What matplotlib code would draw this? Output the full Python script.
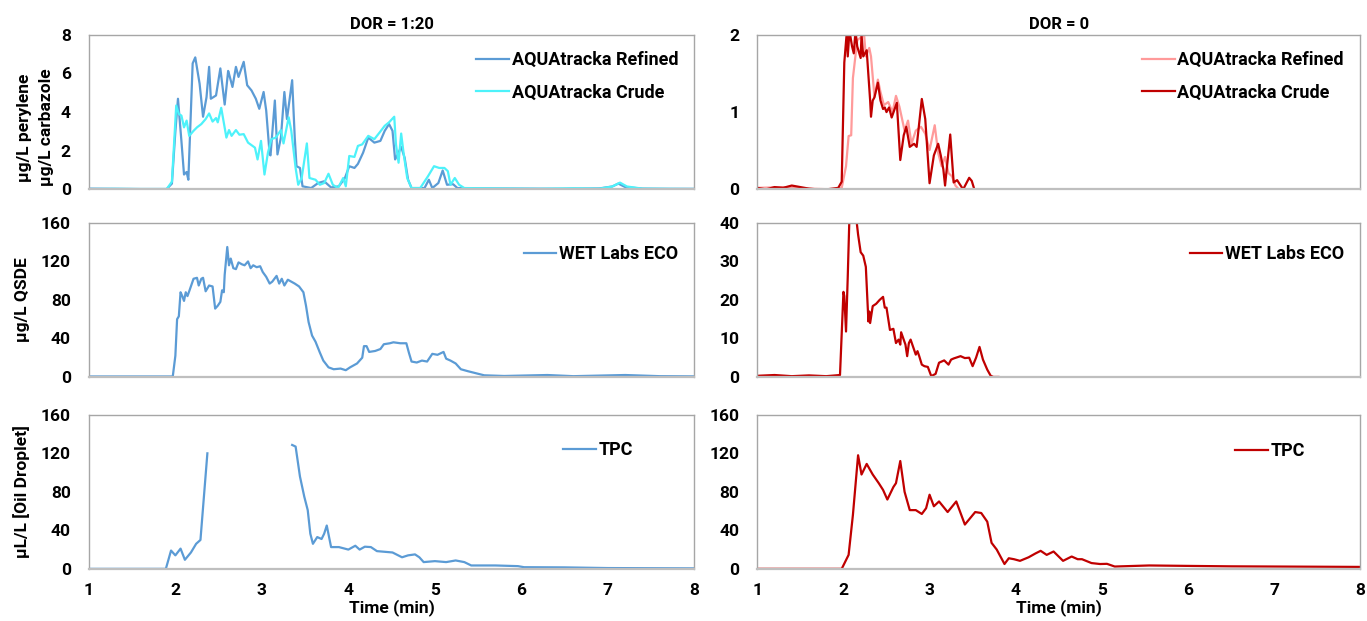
import numpy as np
import matplotlib
matplotlib.use("Agg")
from matplotlib import pyplot as plt

plt.rcParams['font.family'] = ['Roboto', 'DejaVu Sans']
plt.rcParams['font.weight'] = 'bold'

# (time in min, value) pairs
# ---- DOR = 1:20 (left column) ----
aqua_ref = [(1.0, 0.04), (1.3, 0.03), (1.6, 0.02), (1.9, 0.02), (1.96, 0.3), (2.0, 3.0), (2.03, 4.69),
            (2.07, 2.5), (2.10, 0.77), (2.13, 0.9), (2.15, 0.5), (2.20, 6.52), (2.23, 6.83), (2.28, 5.47),
            (2.32, 3.76), (2.36, 4.77), (2.39, 6.34), (2.41, 4.69), (2.47, 4.86), (2.52, 6.26), (2.57, 4.39),
            (2.61, 6.13), (2.62, 5.98), (2.66, 5.30), (2.70, 6.34), (2.73, 5.82), (2.79, 6.60), (2.83, 5.39),
            (2.88, 5.12), (2.93, 4.69), (2.97, 4.17), (3.02, 5.04), (3.05, 4.08), (3.09, 1.81), (3.10, 1.76),
            (3.15, 4.60), (3.18, 1.81), (3.22, 2.68), (3.26, 5.04), (3.29, 3.64), (3.35, 5.65), (3.38, 2.68),
            (3.40, 1.20), (3.44, 1.11), (3.47, 0.16), (3.57, 0.07), (3.65, 0.33), (3.72, 0.42), (3.80, 0.10),
            (3.89, 0.16), (3.96, 0.59), (4.01, 1.20), (4.07, 1.11), (4.11, 1.32), (4.17, 1.90), (4.23, 2.68),
            (4.30, 2.42), (4.37, 2.51), (4.42, 3.03), (4.47, 3.38), (4.51, 3.03), (4.54, 1.55), (4.57, 1.81),
            (4.61, 2.20), (4.65, 1.64), (4.69, 0.50), (4.73, 0.07), (4.88, 0.07), (4.93, 0.50), (4.97, 0.07),
            (5.04, 0.33), (5.09, 0.98), (5.14, 0.24), (5.21, 0.27), (5.26, 0.07), (5.5, 0.05), (6.0, 0.04),
            (6.5, 0.03), (6.9, 0.05), (7.05, 0.15), (7.12, 0.30), (7.2, 0.12), (7.4, 0.04), (7.7, 0.03),
            (8.0, 0.03)]
aqua_crude = [(1.0, 0.02), (1.3, 0.03), (1.6, 0.02), (1.9, 0.02), (1.96, 0.4), (2.01, 4.34), (2.04, 3.90),
              (2.07, 3.82), (2.10, 3.21), (2.13, 3.56), (2.16, 2.77), (2.21, 3.03), (2.25, 3.21), (2.30, 3.38),
              (2.35, 3.64), (2.39, 3.93), (2.43, 3.51), (2.47, 3.69), (2.49, 3.47), (2.53, 4.22), (2.59, 2.68),
              (2.62, 3.07), (2.65, 2.77), (2.70, 3.07), (2.74, 2.83), (2.79, 2.86), (2.84, 2.42), (2.92, 2.16),
              (2.95, 1.55), (2.99, 2.51), (3.03, 0.77), (3.07, 1.90), (3.11, 2.60), (3.16, 2.68), (3.22, 3.07),
              (3.25, 2.38), (3.31, 3.73), (3.34, 3.03), (3.39, 1.11), (3.42, 0.24), (3.46, 0.59), (3.52, 2.38),
              (3.55, 0.59), (3.62, 0.50), (3.67, 0.24), (3.72, 0.33), (3.77, 0.81), (3.82, 0.24), (3.88, 0.07),
              (3.94, 0.59), (3.97, 0.16), (4.01, 1.73), (4.07, 1.68), (4.11, 2.25), (4.16, 2.33), (4.23, 2.77),
              (4.30, 2.60), (4.36, 2.94), (4.42, 3.29), (4.47, 3.47), (4.53, 3.76), (4.55, 2.33), (4.58, 1.38),
              (4.61, 2.89), (4.64, 1.81), (4.68, 0.59), (4.73, 0.07), (4.83, 0.07), (4.92, 0.68), (4.99, 1.20),
              (5.05, 1.11), (5.11, 1.11), (5.15, 0.94), (5.18, 0.24), (5.23, 0.59), (5.28, 0.24), (5.34, 0.07),
              (5.7, 0.05), (6.2, 0.03), (6.6, 0.06), (6.9, 0.04), (7.05, 0.15), (7.14, 0.35), (7.22, 0.15),
              (7.4, 0.04), (7.7, 0.03), (8.0, 0.02)]

eco_left = [(1.0, 0.5), (1.5, 0.5), (1.97, 0.5), (2.00, 22), (2.02, 60), (2.04, 63), (2.06, 88), (2.08, 84),
            (2.10, 79), (2.12, 88), (2.14, 84), (2.16, 89), (2.21, 102), (2.25, 103), (2.27, 95), (2.30, 102),
            (2.32, 103), (2.35, 89), (2.39, 95), (2.43, 94), (2.46, 71), (2.49, 74), (2.52, 78), (2.54, 90),
            (2.56, 88), (2.57, 106), (2.60, 135), (2.62, 116), (2.64, 123), (2.67, 113), (2.70, 112),
            (2.73, 119), (2.77, 117), (2.80, 116), (2.84, 120), (2.87, 113), (2.90, 116), (2.94, 114),
            (2.98, 115), (3.01, 109), (3.05, 104), (3.09, 97), (3.12, 99), (3.17, 105), (3.20, 97),
            (3.23, 102), (3.26, 95), (3.30, 101), (3.34, 99), (3.38, 97), (3.43, 94), (3.48, 88), (3.51, 74),
            (3.54, 57), (3.58, 43), (3.62, 36.6), (3.67, 25.4), (3.71, 17), (3.77, 10), (3.83, 8), (3.91, 8.7),
            (3.97, 7), (4.02, 10), (4.10, 14), (4.16, 20), (4.18, 32), (4.21, 32), (4.24, 26), (4.31, 27),
            (4.37, 29), (4.41, 34), (4.48, 35), (4.52, 36), (4.60, 35), (4.67, 35), (4.70, 25), (4.73, 16),
            (4.79, 15), (4.85, 17), (4.91, 16), (4.97, 24), (5.03, 23), (5.10, 26), (5.13, 19), (5.18, 17),
            (5.24, 14), (5.30, 8), (5.38, 6), (5.49, 3.5), (5.57, 1.7), (5.8, 1.0), (6.3, 2.0), (6.6, 0.8),
            (7.2, 2.0), (7.6, 0.8), (8.0, 0.6)]

tpc_left = [(1.0, 0), (1.5, 0), (1.89, 0), (1.95, 19), (2.00, 14), (2.06, 21), (2.11, 9.4), (2.18, 17),
            (2.24, 26), (2.29, 30), (2.33, 75), (2.37, 120), (2.9, np.nan), (3.35, 128.7), (3.39, 127),
            (3.44, 96), (3.49, 75), (3.53, 61), (3.56, 36.5), (3.59, 26), (3.64, 33), (3.69, 31), (3.72, 36.5),
            (3.75, 45), (3.80, 22.6), (3.89, 22.6), (4.00, 20), (4.08, 24), (4.13, 20), (4.19, 23),
            (4.26, 22.6), (4.33, 18.4), (4.51, 17), (4.62, 12), (4.69, 14), (4.77, 15), (4.82, 12), (4.87, 7),
            (5.00, 8), (5.13, 7), (5.24, 8.7), (5.34, 7), (5.42, 3.5), (5.70, 3.5), (5.96, 2.8), (6.03, 1.7),
            (6.5, 1.5), (7.0, 0.8), (8.0, 0.5)]

# ---- DOR = 0 (right column) ----
aqua0_crude = [(1.0, 0.02), (1.1, 0.0), (1.2, 0.03), (1.3, 0.02), (1.4, 0.05), (1.5, 0.03), (1.6, 0.01),
               (1.7, 0.0), (1.8, 0.0), (1.94, 0.02), (1.98, 0.1), (2.01, 1.64), (2.04, 2.05), (2.05, 1.72),
               (2.07, 2.05), (2.10, 1.85), (2.12, 1.76), (2.14, 2.05), (2.16, 1.85), (2.20, 1.70), (2.21, 2.0),
               (2.23, 1.72), (2.27, 1.80), (2.31, 1.15), (2.32, 0.94), (2.34, 1.15), (2.36, 1.19), (2.40, 1.38),
               (2.43, 1.15), (2.46, 1.04), (2.48, 1.06), (2.50, 1.0), (2.53, 1.06), (2.56, 0.93), (2.62, 1.12),
               (2.66, 0.38), (2.70, 0.70), (2.73, 0.81), (2.77, 0.55), (2.82, 0.59), (2.85, 0.55), (2.91, 1.17),
               (2.95, 0.91), (3.00, 0.08), (3.05, 0.44), (3.10, 0.59), (3.13, 0.44), (3.16, 0.26), (3.18, 0.05),
               (3.24, 0.71), (3.28, 0.09), (3.32, 0.12), (3.39, 0.0), (3.46, 0.15), (3.49, 0.11), (3.52, 0.0)]
aqua0_ref = [(1.0, 0.02), (1.3, 0.03), (1.6, 0.01), (1.9, 0.0), (1.98, 0.02), (2.03, 0.3), (2.06, 0.69),
             (2.09, 0.70), (2.11, 1.44), (2.16, 1.93), (2.24, 2.0), (2.26, 1.72), (2.30, 1.83), (2.32, 1.72),
             (2.36, 1.20), (2.40, 1.42), (2.43, 1.26), (2.47, 1.09), (2.52, 1.13), (2.57, 1.0), (2.61, 1.21),
             (2.65, 1.07), (2.71, 0.76), (2.75, 0.89), (2.79, 0.59), (2.84, 0.76), (2.90, 0.81), (2.95, 0.72),
             (3.00, 0.51), (3.06, 0.83), (3.10, 0.47), (3.14, 0.30), (3.18, 0.42), (3.22, 0.21), (3.26, 0.17),
             (3.30, 0.05), (3.34, 0.0), (3.37, 0.0)]

eco0 = [(1.0, 0.3), (1.2, 0.5), (1.4, 0.2), (1.6, 0.4), (1.8, 0.2), (1.96, 0.5), (2.00, 22.1), (2.01, 21),
        (2.03, 11.8), (2.05, 26), (2.07, 42), (2.10, 45), (2.15, 41), (2.17, 37), (2.20, 32.4), (2.23, 31.5),
        (2.26, 28.6), (2.29, 14.4), (2.30, 17), (2.31, 14), (2.34, 18.4), (2.38, 19), (2.42, 20), (2.46, 20.8),
        (2.48, 18), (2.50, 18), (2.54, 12.2), (2.58, 12.5), (2.61, 8.8), (2.64, 9.7), (2.66, 8.4), (2.67, 11.6),
        (2.72, 8.4), (2.74, 5.4), (2.76, 8.8), (2.78, 9.7), (2.84, 5.8), (2.86, 6.7), (2.88, 5.4), (2.91, 3.2),
        (2.94, 2.8), (2.98, 2.6), (3.02, 0.2), (3.07, 0.8), (3.11, 3.7), (3.17, 4.3), (3.22, 3.2), (3.25, 4.5),
        (3.28, 4.8), (3.36, 5.4), (3.41, 4.9), (3.46, 5.0), (3.50, 2.8), (3.54, 5.0), (3.58, 7.8), (3.62, 4.5),
        (3.67, 1.9), (3.71, 0.3), (3.74, 0.0), (3.80, 0.0)]

tpc0 = [(1.0, 0), (1.5, 0), (1.98, 0), (2.06, 14.5), (2.11, 56), (2.17, 118), (2.21, 98), (2.27, 109),
        (2.34, 98), (2.41, 89), (2.46, 82), (2.51, 72), (2.58, 85), (2.61, 89), (2.66, 112), (2.71, 80),
        (2.77, 61), (2.84, 61), (2.91, 57), (2.96, 63), (3.00, 77), (3.05, 65), (3.11, 70), (3.21, 59),
        (3.31, 70), (3.41, 46), (3.53, 59), (3.60, 58), (3.67, 49), (3.72, 27), (3.78, 20), (3.87, 5),
        (3.92, 11), (3.98, 10), (4.05, 8.3), (4.15, 12), (4.23, 16), (4.29, 18.7), (4.36, 14.5), (4.44, 18),
        (4.55, 8.3), (4.65, 12.8), (4.72, 10), (4.77, 10), (4.88, 6), (4.98, 5), (5.06, 5.2), (5.15, 2.4),
        (5.55, 3.5), (6.05, 3), (6.5, 2.6), (7.0, 2.4), (7.5, 2.2), (8.0, 2.0)]

BLUE = '#5B9BD5'
CYAN = '#4DF2FA'
SALMON = '#FF9A9A'
RED = '#C00000'


def xy(pairs):
    a = np.array(pairs, dtype=float)
    return a[:, 0], a[:, 1]


fig = plt.figure(figsize=(13.67, 6.21), dpi=100)
lefts = [0.065, 0.554]
widths = [0.443, 0.441]
rows = [(0.695, 0.249), (0.393, 0.248), (0.084, 0.248)]

axes = {}
for r, (b, h) in enumerate(rows):
    for c in range(2):
        ax = fig.add_axes([lefts[c], b, widths[c], h])
        ax.set_xlim(1, 8)
        ax.tick_params(length=0, labelsize=12.5, pad=13)
        ax.tick_params(axis='x', pad=10)
        for s in ax.spines.values():
            s.set_color('#A6A6A6')
            s.set_linewidth(1.0)
        ax.spines['bottom'].set_color('#BFBFBF')
        ax.spines['bottom'].set_linewidth(1.6)
        if r < 2:
            ax.set_xticks([])
        else:
            ax.set_xticks(range(1, 9))
            ax.set_xlabel('Time (min)', fontsize=12.5, fontweight='bold', labelpad=1)
        for lab in ax.get_xticklabels() + ax.get_yticklabels():
            lab.set_fontweight('bold')
        axes[(r, c)] = ax

leg_kw = dict(frameon=False, handlelength=1.8, handletextpad=0.15,
              borderaxespad=0.5, labelspacing=0.8, prop={'size': 13, 'weight': 'bold'})

ax = axes[(0, 0)]
ax.plot(*xy(aqua_ref), color=BLUE, lw=1.6, label='AQUAtracka Refined')
ax.plot(*xy(aqua_crude), color=CYAN, lw=1.6, label='AQUAtracka Crude')
ax.set_ylim(0, 8)
ax.set_yticks([0, 2, 4, 6, 8])
ax.set_title('DOR = 1:20', fontsize=12, fontweight='bold', pad=4)
ax.set_ylabel('\u00b5g/L perylene\n\u00b5g/L carbazole', fontsize=12.5, fontweight='bold',
              labelpad=5, y=0.40, linespacing=1.55)
ax.legend(loc='upper right', bbox_to_anchor=(1.0, 1.0), **leg_kw)

ax = axes[(0, 1)]
ax.plot(*xy(aqua0_ref), color=SALMON, lw=1.6, label='AQUAtracka Refined')
ax.plot(*xy(aqua0_crude), color=RED, lw=1.6, label='AQUAtracka Crude')
ax.set_ylim(0, 2)
ax.set_yticks([0, 1, 2])
ax.set_title('DOR = 0', fontsize=12, fontweight='bold', pad=4)
ax.legend(loc='upper right', bbox_to_anchor=(1.0, 1.0), **leg_kw)

ax = axes[(1, 0)]
ax.plot(*xy(eco_left), color=BLUE, lw=1.6, label='WET Labs ECO')
ax.set_ylim(0, 160)
ax.set_yticks(range(0, 161, 40))
ax.set_ylabel('\u00b5g/L QSDE', fontsize=12.5, fontweight='bold', labelpad=8)
ax.legend(loc='upper right', bbox_to_anchor=(1.0, 0.96), **leg_kw)

ax = axes[(1, 1)]
ax.plot(*xy(eco0), color=RED, lw=1.6, label='WET Labs ECO')
ax.set_ylim(0, 40)
ax.set_yticks(range(0, 41, 10))
ax.legend(loc='upper right', bbox_to_anchor=(1.0, 0.96), **leg_kw)

ax = axes[(2, 0)]
ax.plot(*xy(tpc_left), color=BLUE, lw=1.6, label='TPC')
ax.set_ylim(0, 160)
ax.set_yticks(range(0, 161, 40))
ax.set_ylabel('\u00b5L/L [Oil Droplet]', fontsize=12.5, fontweight='bold', labelpad=8)
ax.legend(loc='upper right', bbox_to_anchor=(0.925, 0.935), **leg_kw)

ax = axes[(2, 1)]
ax.plot(*xy(tpc0), color=RED, lw=1.6, label='TPC')
ax.set_ylim(0, 160)
ax.set_yticks(range(0, 161, 40))
ax.legend(loc='upper right', bbox_to_anchor=(0.935, 0.93), **leg_kw)

fig.savefig('out.png', dpi=100)
